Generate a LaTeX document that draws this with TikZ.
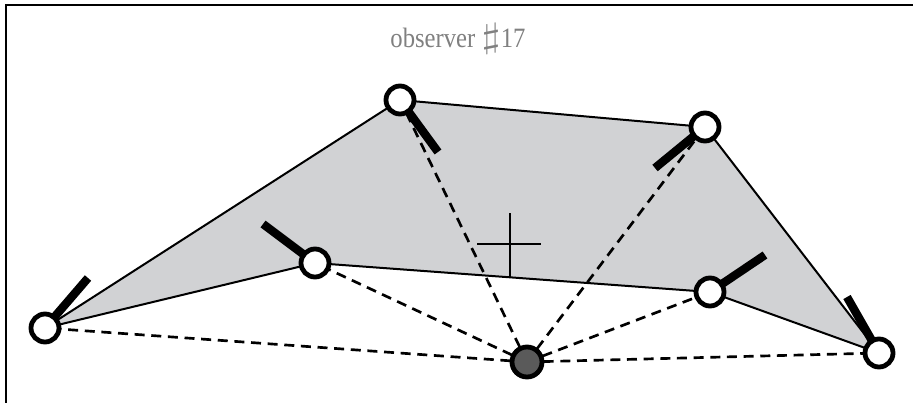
\documentclass[tikz,border=0pt]{standalone}
\usepackage{fontspec}
\setmainfont{Liberation Serif}

\definecolor{regiongray}{RGB}{209,210,212}
\definecolor{obsgray}{RGB}{90,90,90}
\definecolor{labelgray}{RGB}{128,128,128}

\tikzset{every picture/.style={line width=0.75pt}}
\tikzset{
  station/.style={circle,draw=black,fill=white,line width=3.6pt,minimum size=21pt,inner sep=0pt},
  observer/.style={circle,draw=black,fill=obsgray,line width=3.6pt,minimum size=22.5pt,inner sep=0pt},
  sight/.style={dash pattern=on 7.5pt off 5pt,line width=2pt},
  stick/.style={line width=6.3pt,line cap=butt},
  edge/.style={line width=1.5pt}
}

\begin{document}
\begin{tikzpicture}[x=0.75pt,y=0.75pt,yscale=-1,xscale=1]
\useasboundingbox (0,0) rectangle (913,403);

%Positions
\coordinate (p1) at (45,328);
\coordinate (p2) at (315,263);
\coordinate (p3) at (400,100);
\coordinate (p4) at (705,127);
\coordinate (p5) at (710,292);
\coordinate (p6) at (879,353);
\coordinate (o) at (527,362);
%Stick tips
\coordinate (t1) at (88,278);
\coordinate (t2) at (263,224);
\coordinate (t3) at (438,152);
\coordinate (t4) at (655,168);
\coordinate (t5) at (765,255);
\coordinate (t6) at (847,297);

%Frame
\coordinate (f1) at (6,403);
\coordinate (f2) at (6,5);
\coordinate (f3) at (913,5);
\draw [line width=1.5pt] (f1) -- (f2) -- (f3) ;

%Shaded region
\fill [regiongray] (p1) -- (p3) -- (p4) -- (p6) -- (p5) -- (p2) -- cycle ;
\draw [edge] (p1) -- (p3) -- (p4) -- (p6) -- (p5) -- (p2) -- cycle ;

%Cross
\draw [line width=1.5pt] (477,244) -- (541,244) ;
\draw [line width=1.5pt] (510,213) -- (510,277) ;

%Lines of sight
\foreach \p in {p1,p2,p3,p4,p5,p6}
  \draw [sight] (o) -- (\p) ;

%Sticks
\foreach \i in {1,...,6}
  \draw [stick] (p\i) -- (t\i) ;

%Circles
\foreach \i in {1,...,6}
  \node [station] (s\i) at (p\i) {};
\node [observer] (obs) at (o) {};

% Text Node
\node [text=labelgray,font=\fontsize{21}{24}\selectfont] (title) at (458,39)
  {\scalebox{0.88}[1]{observer \scalebox{2.1}[1.25]{$\sharp$}17}};

\end{tikzpicture}
\end{document}
